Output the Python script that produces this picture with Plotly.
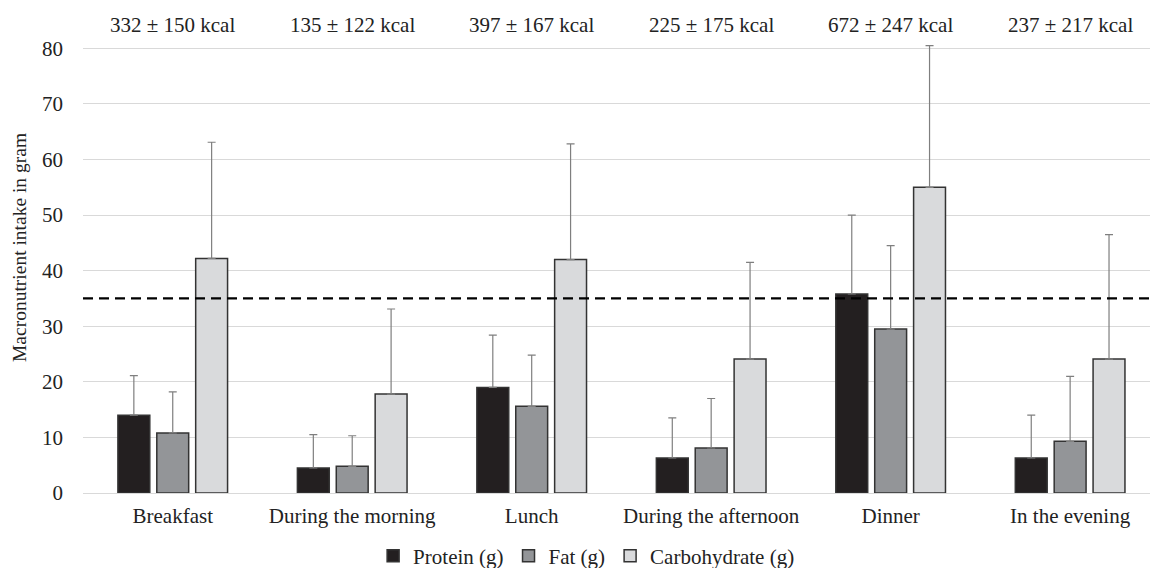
import plotly.graph_objects as go

categories = ["Breakfast", "During the morning", "Lunch", "During the afternoon", "Dinner", "In the evening"]
kcal_labels = ["332 ± 150 kcal", "135 ± 122 kcal", "397 ± 167 kcal", "225 ± 175 kcal", "672 ± 247 kcal", "237 ± 217 kcal"]

protein = [14.0, 4.5, 19.0, 6.3, 35.8, 6.3]
protein_sd = [7.1, 6.0, 9.4, 7.2, 14.2, 7.7]
fat = [10.8, 4.8, 15.6, 8.1, 29.5, 9.3]
fat_sd = [7.4, 5.5, 9.2, 8.9, 15.0, 11.7]
carb = [42.2, 17.8, 42.0, 24.1, 55.0, 24.1]
carb_sd = [20.9, 15.3, 20.8, 17.4, 25.5, 22.4]
reference_line = 35

series = [
    ("Protein (g)", protein, protein_sd, "#231f20"),
    ("Fat (g)", fat, fat_sd, "#939598"),
    ("Carbohydrate (g)", carb, carb_sd, "#d9dadc"),
]

FONT = "Liberation Serif, Times New Roman, Times, serif"
TXT = "#222222"
fig = go.Figure()
for name, vals, sd, col in series:
    fig.add_trace(go.Bar(
        x=categories, y=vals, name=name,
        marker=dict(color=col, line=dict(color="#333333", width=1.5)),
        error_y=dict(type="data", array=sd, symmetric=False, arrayminus=[0]*len(sd),
                     color="#7f7f7f", thickness=1.2, width=4),
        cliponaxis=False,
    ))

fig.add_shape(type="line", xref="paper", x0=0, x1=1, yref="y", y0=reference_line, y1=reference_line,
              line=dict(color="black", width=2.2, dash="10px,6px"))

for cat, lab in zip(categories, kcal_labels):
    fig.add_annotation(x=cat, xref="x", y=1.0, yref="paper", yanchor="middle", yshift=20, text=lab,
                       showarrow=False, font=dict(family=FONT, size=21, color=TXT))

fig.add_annotation(x=-0.059, xref="paper", y=0.547, yref="paper", xanchor="center", yanchor="middle",
                   text="Macronutrient intake in gram", textangle=-90, showarrow=False,
                   font=dict(family=FONT, size=19.5, color=TXT))

fig.update_layout(
    width=1150, height=568,
    margin=dict(l=83, r=0, t=45, b=75),
    paper_bgcolor="white", plot_bgcolor="white",
    barmode="group", bargap=0.35, bargroupgap=0.18,
    font=dict(family=FONT, size=21, color=TXT),
    legend=dict(orientation="h", x=0.472, xanchor="center", xref="paper",
                y=0.021, yanchor="middle", yref="container",
                bgcolor="rgba(0,0,0,0)",
                font=dict(family=FONT, size=21, color=TXT), itemwidth=30, tracegroupgap=0),
    xaxis=dict(range=[-0.5, 5.445], showgrid=False, showline=False, ticks="", automargin=False,
               ticklabelstandoff=8,
               tickfont=dict(family=FONT, size=21, color=TXT)),
    yaxis=dict(range=[0, 80.6], tickvals=[0, 10, 20, 30, 40, 50, 60, 70, 80], automargin=False,
               showgrid=True, gridcolor="#d9d9d9", gridwidth=1.2, zeroline=True,
               zerolinecolor="#d9d9d9", zerolinewidth=1.2, showline=False,
               ticklabelstandoff=19,
               tickfont=dict(family=FONT, size=21, color=TXT)),
)

fig.write_html("out.html", config={"displayModeBar": False},
               post_script="document.body.style.margin='0';document.body.style.overflow='hidden';")
